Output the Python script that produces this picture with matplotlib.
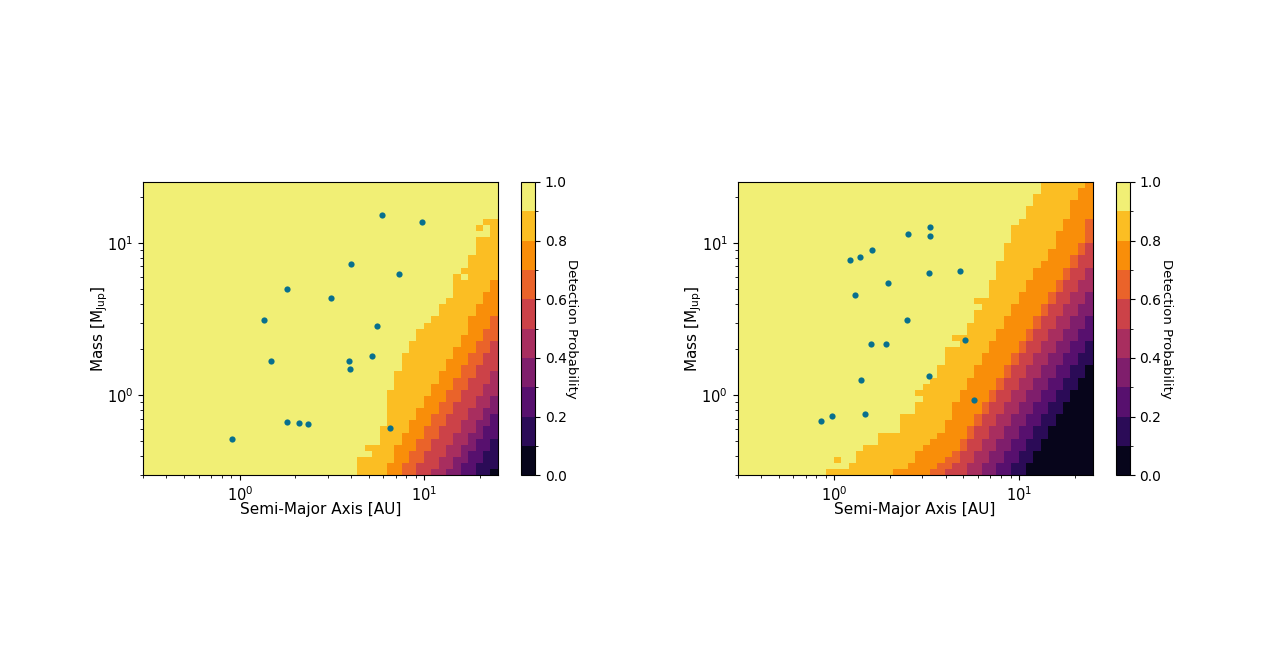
import numpy as np
import matplotlib
matplotlib.use("Agg")
import matplotlib.pyplot as plt
from matplotlib.colors import ListedColormap, BoundaryNorm

# ---------------- data ----------------
N_CELLS = 48                      # grid cells per axis (log spaced)
A_RANGE = (0.3, 25.0)             # semi-major axis [AU]
M_RANGE = (0.3, 25.0)             # mass [M_Jup]
PROB_LEVELS = [0.0, 0.1, 0.2, 0.3, 0.4, 0.5, 0.6, 0.7, 0.8, 0.9, 1.0]
CBAR_TICKS = [0.0, 0.2, 0.4, 0.6, 0.8, 1.0]

# Detection-probability maps, read row by row (top row first, bottom-aligned lists).
# For every row: first column index whose probability drops below 0.9, 0.8, ... 0.1
left_below_90 = [48, 48, 48, 48, 48, 48, 46, 45, 47, 45, 45, 45, 44, 44, 43, 42, 42, 42, 42, 41, 40, 40, 39, 38,
                 37, 37, 36, 36, 35, 35, 35, 34, 34, 34, 33, 33, 33, 33, 33, 33, 32, 32, 32, 30, 31, 29, 29, 29]
left_below_80 = [47, 47, 46, 46, 45, 45, 44, 44, 44, 43, 43, 42, 42, 41, 41, 40, 40, 39, 39, 38, 38, 37, 37, 36,
                 36, 35, 35, 34, 34, 34, 33, 33]
left_below_70 = [47, 47, 46, 46, 45, 45, 44, 44, 43, 43, 42, 42, 41, 41, 40, 40, 39, 39, 38, 38, 37, 37, 36, 36, 35, 35]
left_below_60 = [47, 47, 46, 46, 45, 45, 44, 44, 43, 43, 42, 42, 41, 41, 40, 40, 39, 39, 38, 38, 37, 37]
left_below_50 = [47, 47, 46, 46, 45, 45, 44, 44, 43, 43, 42, 42, 41, 41, 40, 40, 39]
left_below_40 = [47, 47, 46, 46, 45, 45, 44, 44, 43, 43, 42, 42, 41]
left_below_30 = [47, 47, 46, 46, 45, 45, 44, 44, 43, 43]
left_below_20 = [47, 47, 46, 46, 45, 45]
left_below_10 = [47]
left_cell_fixes = [(7, 46, 9), (15, 43, 9)]      # (row from top, column, level)

right_below_90 = [41, 41, 40, 40, 39, 39, 38, 37, 37, 37, 36, 36, 36, 35, 35, 35, 34, 34, 34, 32, 33, 32, 32, 31,
                  31, 29, 30, 28, 28, 28, 27, 27, 26, 25, 24, 25, 24, 24, 22, 22, 22, 19, 19, 17, 16, 16, 15, 12]
right_below_80 = [47, 46, 46, 45, 45, 45, 44, 44, 43, 43, 43, 42, 42, 41, 40, 40, 39, 39, 38, 38, 37, 37, 36, 36,
                  35, 35, 34, 34, 33, 33, 32, 32, 31, 31, 30, 30, 29, 29, 29, 28, 28, 27, 26, 25, 24, 24, 23, 21]
right_below_70 = [47, 47, 47, 47, 46, 46, 45, 45, 44, 44, 43, 43, 42, 42, 41, 41, 40, 40, 39, 39, 38, 38, 37, 37,
                  36, 36, 35, 35, 34, 34, 33, 33, 32, 32, 31, 31, 30, 30, 29, 28, 27, 26]
right_below_60 = [47, 47, 46, 46, 45, 45, 44, 44, 43, 43, 42, 42, 41, 41, 40, 40, 39, 39, 38, 38, 37, 37, 36, 36,
                  35, 35, 34, 34, 33, 33, 32, 32, 31, 31, 30, 30, 29, 28]
right_below_50 = [47, 47, 46, 46, 45, 45, 44, 44, 43, 43, 42, 42, 41, 41, 40, 40, 39, 39, 38, 38, 37, 37, 36, 36,
                  35, 35, 34, 34, 33, 33, 32, 32, 31, 31]
right_below_40 = [47, 47, 46, 46, 45, 45, 44, 44, 43, 43, 42, 42, 41, 41, 40, 40, 39, 39, 38, 38, 37, 37, 36, 36,
                  35, 35, 34, 34, 33, 33]
right_below_30 = [47, 47, 46, 46, 45, 45, 44, 44, 43, 43, 42, 42, 41, 41, 40, 40, 39, 39, 38, 38, 37, 37, 36, 36, 35, 35]
right_below_20 = [47, 47, 46, 46, 45, 45, 44, 44, 43, 43, 42, 42, 41, 41, 40, 40, 39, 39, 38, 38, 37, 37]
right_below_10 = [47, 47, 46, 46, 45, 45, 44, 44, 43, 43, 42, 42, 41, 41, 40, 40, 39, 39]
right_cell_fixes = [(45, 13, 8)]

# Planets (semi-major axis [AU], mass [M_Jup])
left_sma = [0.913, 1.36, 1.48, 1.81, 1.81, 2.10, 2.35, 3.13, 4.02, 3.89, 3.94, 5.92, 5.51, 5.18, 7.34, 9.66, 6.54]
left_mass = [0.519, 3.12, 1.69, 4.98, 0.673, 0.664, 0.653, 4.35, 7.29, 1.69, 1.49, 15.2, 2.87, 1.82, 6.27, 13.6, 0.612]

right_sma = [3.31, 2.51, 3.28, 1.59, 1.377, 1.216, 3.27, 4.79, 1.96, 1.29, 2.47, 5.10, 1.574, 1.905, 1.39, 3.25,
             5.72, 0.968, 0.852, 1.47]
right_mass = [12.67, 11.35, 11.11, 8.92, 8.10, 7.67, 6.34, 6.50, 5.43, 4.53, 3.14, 2.30, 2.18, 2.17, 1.26, 1.34,
              0.937, 0.737, 0.678, 0.751]


# ---------------- build maps ----------------
def build_map(boundaries, fixes):
    cols = np.arange(N_CELLS)
    level = np.zeros((N_CELLS, N_CELLS), dtype=int)
    for b in boundaries:
        full = np.array([N_CELLS] * (N_CELLS - len(b)) + list(b))
        level += (cols[None, :] < full[:, None]).astype(int)
    for r, c, lv in fixes:
        level[r, c] = lv
    prob = (level + 0.5) / 10.0
    return prob[::-1]      # bottom row first for pcolormesh


left_map = build_map([left_below_90, left_below_80, left_below_70, left_below_60, left_below_50,
                      left_below_40, left_below_30, left_below_20, left_below_10], left_cell_fixes)
right_map = build_map([right_below_90, right_below_80, right_below_70, right_below_60, right_below_50,
                       right_below_40, right_below_30, right_below_20, right_below_10], right_cell_fixes)

a_edges = np.logspace(np.log10(A_RANGE[0]), np.log10(A_RANGE[1]), N_CELLS + 1)
m_edges = np.logspace(np.log10(M_RANGE[0]), np.log10(M_RANGE[1]), N_CELLS + 1)

cmap = ListedColormap(plt.cm.inferno(np.linspace(0.05, 0.95, 10)))
norm = BoundaryNorm(PROB_LEVELS, cmap.N)

# ---------------- figure ----------------
fig = plt.figure(figsize=(12.8, 6.71), dpi=100)
W, H = 1280.0, 671.0

panels = [
    (143.3, 497.7, 521.0, left_map, left_sma, left_mass),
    (737.7, 1092.6, 1115.9, right_map, right_sma, right_mass),
]
top_px, bot_px = 182.0, 475.3

for x0, x1, cx0, pmap, sma, mass in panels:
    ax = fig.add_axes([x0 / W, 1 - bot_px / H, (x1 - x0) / W, (bot_px - top_px) / H])
    mesh = ax.pcolormesh(a_edges, m_edges, pmap, cmap=cmap, norm=norm, shading="flat")
    ax.scatter(sma, mass, s=20, color="#08708e", zorder=3, linewidths=0)
    ax.set_xscale("log")
    ax.set_yscale("log")
    ax.set_xlim(*A_RANGE)
    ax.set_ylim(*M_RANGE)
    ax.tick_params(labelsize=10.5)
    ax.set_xlabel("Semi-Major Axis [AU]", fontsize=11, labelpad=-1.5)
    ax.set_ylabel(r"Mass [M$_{\rm Jup}$]", fontsize=11, labelpad=-2)

    cax = fig.add_axes([cx0 / W, 1 - bot_px / H, 14.0 / W, (bot_px - top_px) / H])
    cb = fig.colorbar(mesh, cax=cax, ticks=CBAR_TICKS)
    cb.ax.tick_params(labelsize=10)
    cb.set_label("Detection Probability", rotation=270, fontsize=9.5, labelpad=-1.5,
                 va="bottom")

fig.savefig("out.png", dpi=100)
